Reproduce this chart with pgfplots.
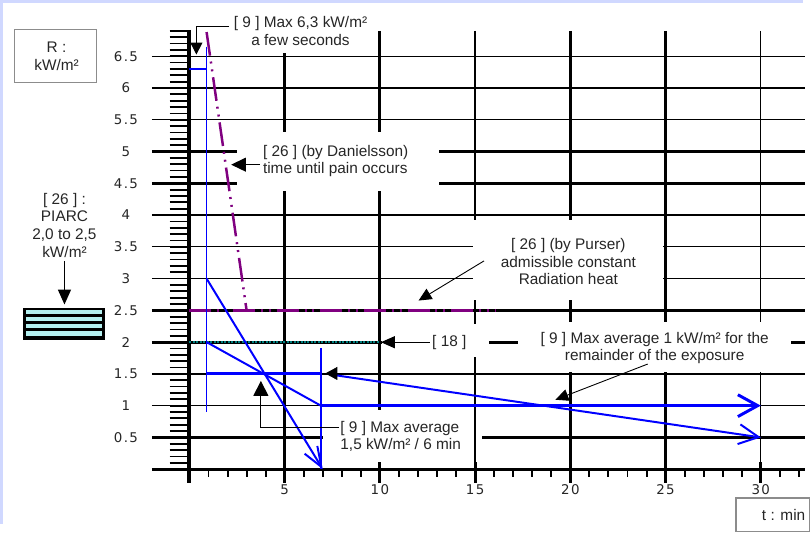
\documentclass[border=0pt]{standalone}
\usepackage{fontspec}
\setmainfont{Liberation Sans}
\newfontfamily\tickfont[LetterSpace=10]{DejaVu Sans}
\usepackage{pgfplots}
\pgfplotsset{compat=1.18}
\usetikzlibrary{arrows.meta}
\definecolor{pur}{RGB}{128,0,128}
\definecolor{teal2}{RGB}{0,128,128}
\definecolor{frame}{RGB}{208,216,255}
\definecolor{stripe}{RGB}{180,240,240}
\tikzset{
  ann/.style={font=\fontsize{15.5}{17.7}\selectfont, text=black!85, inner sep=0pt, align=center},
  tk/.style={font=\tickfont\fontsize{13.5}{16}\selectfont, text=black!85, inner sep=0pt},
}
\begin{document}
\begin{tikzpicture}
% ---------- background: frame, grid, axes, ticks (pixel coordinates) ----------
\begin{scope}[x=1pt,y=-1pt]
\useasboundingbox (0,0) rectangle (810,528);
\fill[white] (0,0) rectangle (810,528);
\fill[frame] (0,0) rectangle (810,3);
\fill[frame] (0,0) rectangle (3,528);
% horizontal grid
\foreach \v in {1,1.5,3,3.5,4,5.5,6,6.5}
  \draw[line width=1.3pt] (153,{473-64.05*\v}) -- (812,{473-64.05*\v});
\foreach \v in {0.5,2,2.5,4.5,5}
  \draw[line width=2.8pt] (153,{473-64.05*\v}) -- (812,{473-64.05*\v});
% vertical grid
\foreach \v in {5,10,20,25}
  \draw[line width=3pt] ({191+19.2*\v},31) -- ({191+19.2*\v},473);
\foreach \v in {15,30}
  \draw[line width=1.3pt] ({191+19.2*\v},31) -- ({191+19.2*\v},473);
% axes
\draw[line width=3pt] (153,473) -- (812,473);
\foreach \k in {1,...,69}
  \draw[line width=1.8pt] (171,{473-6.405*\k}) -- (191,{473-6.405*\k});
\foreach \k in {1,...,32}
  \draw[line width=2pt] ({191+19.2*\k},473) -- ({191+19.2*\k},481);
\foreach \k in {5,10,...,30}
  \draw[line width=3pt] ({191+19.2*\k},466) -- ({191+19.2*\k},487);
\draw[line width=4pt] (191,30) -- (191,487);
% white boxes behind annotations
\fill[white] (222,4) rectangle (378,53);
\fill[white] (239,133) rectangle (443,193);
\fill[white] (477,222) rectangle (668.5,302);
\fill[white] (385.5,327) rectangle (493,360);
\fill[white] (522,325) rectangle (797,375.5);
\fill[white] (326,413.5) rectangle (486,465.5);
\draw[line width=1.3pt] ({191+19.2*15},405) -- ({191+19.2*15},473);
% tick labels
\foreach \v in {0.5,1,1.5,2,2.5,3,3.5,4,4.5,5,5.5,6,6.5}
  \node[tk] at (127,{473-64.05*\v}) {\v};
\foreach \k in {5,10,...,30}
  \node[tk] at ({191+19.2*\k},494) {\k};
\end{scope}
% ---------- data ----------
\begin{axis}[at={(191pt,-473pt)}, anchor=south west,
  x=19.2pt, y=64.05pt, xmin=0, xmax=32.3, ymin=0, ymax=6.9,
  hide axis, clip=false]
\addplot[pur, line width=2.5pt, dash pattern=on 24pt off 6pt on 2pt off 6pt on 2pt off 6pt]
  coordinates {(0.9,6.88) (3.0,2.5)};
\addplot[pur, line width=2.5pt, dash pattern=on 22pt off 6pt on 2pt off 6pt on 2pt off 6pt]
  coordinates {(0,2.5) (16.1,2.5)};
\addplot[teal2, line width=2pt, dash pattern=on 2pt off 1.5pt]
  coordinates {(0,2) (10,2)};
\addplot[blue, line width=1.4pt] coordinates {(0.9,6.65) (0.9,0.9)};
\addplot[blue, line width=1.4pt] coordinates {(0,6.3) (0.9,6.3)};
\addplot[blue, line width=2pt, -{Straight Barb[length=20pt,width=15pt]}]
  coordinates {(0.9,3.0) (7,0)};
\addplot[blue, line width=2pt] coordinates {(0.9,2.0) (6.9,1.0)};
\addplot[blue, line width=3pt, -{Straight Barb[length=20pt,width=22pt]}]
  coordinates {(6.9,1.0) (30,1.0)};
\addplot[blue, line width=3pt] coordinates {(0.9,1.5) (6.9,1.5)};
\addplot[blue, line width=1.4pt] coordinates {(6.9,1.9) (6.9,0)};
\addplot[blue, line width=2pt, -{Straight Barb[length=20pt,width=20pt]}]
  coordinates {(7.4,1.49) (30,0.5)};
\end{axis}
% ---------- annotations (pixel coordinates) ----------
\begin{scope}[x=1pt,y=-1pt]
\draw[line width=0.6pt, -{Triangle[length=12pt,width=13pt]}] (345,376.5) -- (328,376.5);
\draw[line width=1.2pt, -{Triangle[length=12pt,width=12pt]}] (231,27) -- (198,27) -- (198,55);
\node[ann] at (303,31) {[ 9 ] Max 6,3 kW/m²\\a few seconds};
\draw[line width=1.5pt, -{Triangle[length=15pt,width=14pt]}] (262,166) -- (233,166);
\node[ann, anchor=west, align=left] at (265,162.5) {[ 26 ] (by Danielsson)\\time until pain occurs};
\draw[line width=0.9pt, -{Triangle[length=13pt,width=12pt]}] (488,263) -- (422,303);
\node[ann] at (573,264) {[ 26 ] (by Purser)\\admissible constant\\Radiation heat};
\draw[line width=1.2pt, -{Triangle[length=14pt,width=12pt]}] (433,345) -- (384,345);
\node[ann] at (453,345) {[ 18 ]};
\draw[line width=0.9pt, -{Triangle[length=13pt,width=12pt]}] (653,367) -- (560,403);
\node[ann] at (660,351) {[ 9 ] Max average 1 kW/m² for the\\remainder of the exposure};
\draw[line width=1.2pt, -{Triangle[length=15pt,width=15pt]}] (342,431) -- (263,431) -- (263,384);
\node[ann, anchor=west, align=left] at (343,440) {[ 9 ] Max average\\1,5 kW/m² / 6 min};
% PIARC
\node[ann] at (65,227) {[ 26 ] :\\PIARC\\2,0 to 2,5\\kW/m²};
\draw[line width=1.5pt, -{Triangle[length=15pt,width=13pt]}] (65,263) -- (65,307);
\fill[black] (23,310) rectangle (106,342.5);
\fill[stripe] (26,312.5) rectangle (103,316.5);
\fill[stripe] (26,319.5) rectangle (103,323.5);
\fill[stripe] (26,326.5) rectangle (103,330.5);
\fill[stripe] (26,334) rectangle (103,338.5);
% unit boxes
\draw[black!45, line width=1.2pt] (15,30) rectangle (97,83);
\node[ann] at (57,57) {R :\\kW/m²};
\draw[black!45, line width=1.2pt] (742,502) rectangle (816,536);
\node[ann] at (790,519) {t : min};
\end{scope}
\end{tikzpicture}
\end{document}
